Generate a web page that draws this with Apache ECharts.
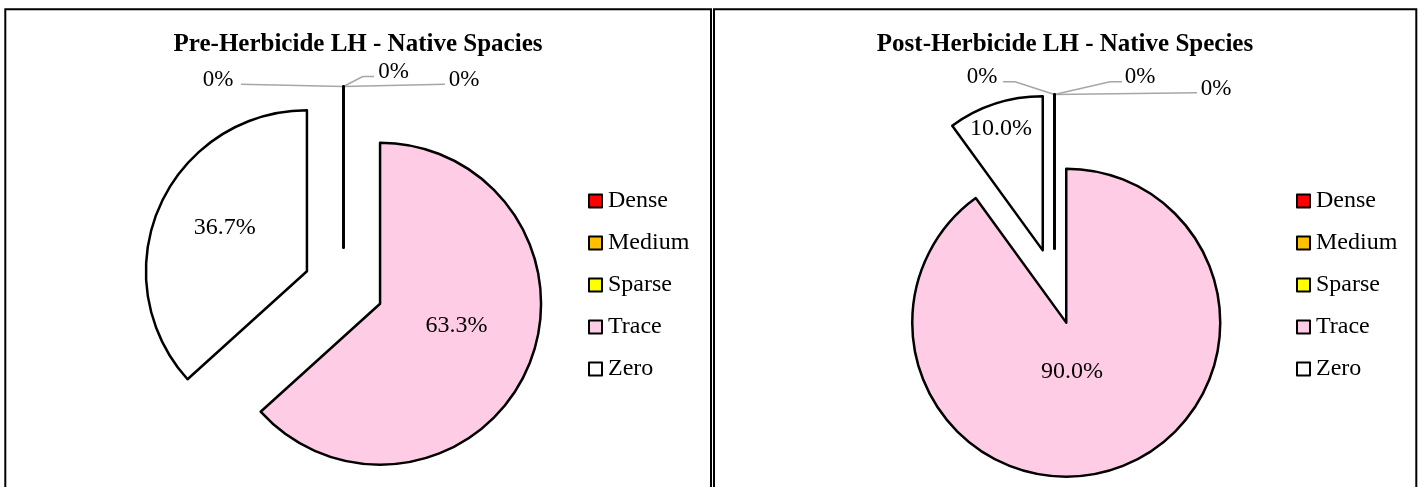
<!DOCTYPE html>
<html>
<head>
<meta charset="utf-8">
<script src="https://cdn.jsdelivr.net/npm/echarts@6/dist/echarts.min.js"></script>
<style>
html,body{margin:0;padding:0;background:#ffffff;}
#chart{width:1424px;height:487px;}
</style>
</head>
<body>
<div id="chart"></div>
<script>
// ---- data ----
const categories = ['Dense', 'Medium', 'Sparse', 'Trace', 'Zero'];
const sliceColors = ['#FF0000', '#FFC000', '#FFFF00', '#FFCCE5', '#FFFFFF'];
const preValues = [0, 0, 0, 63.3, 36.7];
const postValues = [0, 0, 0, 90.0, 10.0];
const preTitle = 'Pre-Herbicide LH - Native Spacies';
const postTitle = 'Post-Herbicide LH - Native Species';

// ---- layout (positions / styles) ----
const FONT = '"Liberation Serif", "Times New Roman", serif';
const panels = [
  {
    title: preTitle, values: preValues, titleX: 358,
    center: [343.5, 287.5], radius: 161, offset: 40, legendLeft: 588,
    inner: {3: [0, -12], 4: [-6, -10]},
    zero: {
      0: {text: [-125.5, -6.5], line: [[-102.5, -2.2]]},
      1: {text: [50, -14.5], line: [[19.2, -10], [30.5, -10]]},
      2: {text: [120.5, -6.5], line: [[101.5, -2.2]]}
    }
  },
  {
    title: postTitle, values: postValues, titleX: 1065,
    center: [1054.5, 286.5], radius: 154, offset: 38, legendLeft: 1296,
    inner: {3: [-19, -27], 4: [-17, -46]},
    zero: {
      0: {text: [-72.5, -17.5], line: [[-39.5, -12.8], [-51.5, -12.8]]},
      1: {text: [85.5, -17.5], line: [[55.5, -12.8], [67.5, -12.8]]},
      2: {text: [161.5, -5.5], line: [[142.5, -1.8]]}
    }
  }
];

function makeLayout(cfg) {
  return function (p) {
    const i = p.dataIndex;
    if (cfg.values[i] === 0 && cfg.zero[i]) {
      const pts = p.labelLinePoints;
      const a = (pts && pts.length) ? pts[0] : [p.rect.x + p.rect.width / 2, p.rect.y];
      const z = cfg.zero[i];
      const line = [a.slice()].concat(z.line.map(d => [a[0] + d[0], a[1] + d[1]]));
      while (line.length < 3) line.push(line[line.length - 1].slice());
      const r = p.labelRect;
      const cx = r.x + r.width / 2, cy = r.y + r.height / 2;
      return {dx: a[0] + z.text[0] - cx, dy: a[1] + z.text[1] - cy, labelLinePoints: line};
    }
    const n = cfg.inner[i];
    return n ? {dx: n[0], dy: n[1]} : {};
  };
}

const fmt = p => (p.value === 0 ? '0%' : p.value.toFixed(1) + '%');

const chart = echarts.init(document.getElementById('chart'), null, {renderer: 'canvas'});

const option = {
  backgroundColor: '#ffffff',
  animation: false,
  title: panels.map(cfg => ({
    text: cfg.title, left: cfg.titleX, top: 32, padding: 0, textAlign: 'center',
    textStyle: {fontFamily: FONT, fontWeight: 'bold', fontSize: 25, color: '#000', lineHeight: 25}
  })),
  legend: panels.map(cfg => ({
    orient: 'vertical', left: cfg.legendLeft, top: 189, padding: 0,
    itemWidth: 13, itemHeight: 13, itemGap: 18, icon: 'rect', selectedMode: false,
    data: categories,
    itemStyle: {borderColor: '#000', borderWidth: 2},
    textStyle: {fontFamily: FONT, fontSize: 24, color: '#000', lineHeight: 24, padding: [0, 0, 0, 1]}
  })),
  graphic: [
    {type: 'rect', silent: true, shape: {x: 5.3, y: 9.3, width: 705.7, height: 520}, style: {fill: 'none', stroke: '#000', lineWidth: 2}},
    {type: 'rect', silent: true, shape: {x: 714, y: 9.3, width: 702.3, height: 520}, style: {fill: 'none', stroke: '#000', lineWidth: 2}}
  ],
  series: panels.map(cfg => ({
    type: 'pie',
    center: cfg.center,
    radius: [0, cfg.radius],
    startAngle: 90,
    clockwise: true,
    selectedMode: 'multiple',
    selectedOffset: cfg.offset,
    avoidLabelOverlap: false,
    emphasis: {disabled: true},
    itemStyle: {borderColor: '#000', borderWidth: 2.5},
    label: {show: true, position: 'inside', formatter: fmt, fontFamily: FONT, fontSize: 24, color: '#000'},
    labelLine: {show: false, lineStyle: {color: '#A6A6A6', width: 1.5}},
    labelLayout: makeLayout(cfg),
    data: categories.map((name, i) => {
      const v = cfg.values[i];
      const item = {name: name, value: v, selected: true, itemStyle: {color: sliceColors[i]}};
      if (v === 0) {
        item.label = {position: 'outside', fontSize: 23};
        item.labelLine = {show: true, length: 10, length2: 10};
      }
      return item;
    })
  }))
};
chart.setOption(option);
</script>
</body>
</html>
